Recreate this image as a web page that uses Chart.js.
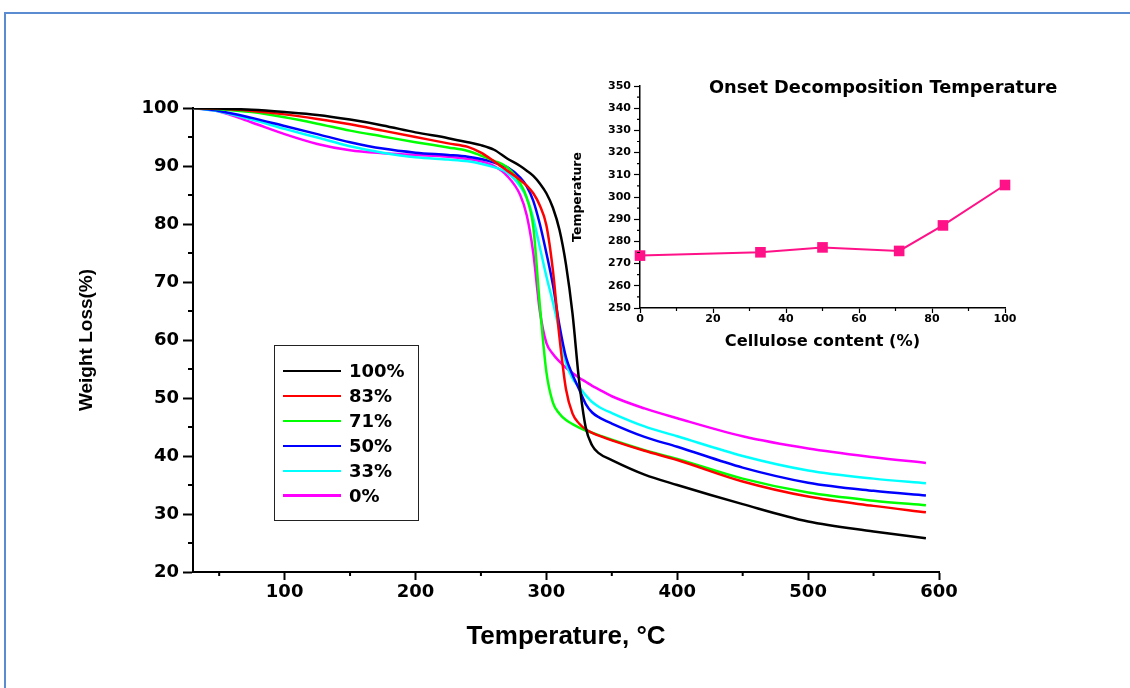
<!DOCTYPE html>
<html>
<head>
<meta charset="utf-8">
<script src="https://cdn.jsdelivr.net/npm/chart.js@4.4.1/dist/chart.umd.min.js"></script>
<style>
html,body{margin:0;padding:0;background:#fff;width:1130px;height:688px;overflow:hidden;position:relative;font-family:"DejaVu Sans",sans-serif;}
#frame{position:absolute;left:4px;top:12px;width:1140px;height:700px;border-top:2px solid #5b8cd2;border-left:2px solid #5b8cd2;}
#main{position:absolute;left:0;top:0;}
#inset{position:absolute;left:560px;top:60px;}
#legend{position:absolute;left:274px;top:345px;width:145px;height:176px;border:1.5px solid #222;box-sizing:border-box;}
.lrow{position:absolute;left:8px;height:20px;display:flex;align-items:center;}
.lline{width:58px;height:2.5px;margin-right:8px;}
.ltext{font:bold 18px "DejaVu Sans";color:#000;line-height:20px;}
#insetTitle{position:absolute;left:709px;top:77px;font:bold 17.8px "DejaVu Sans";color:#000;line-height:20px;white-space:nowrap;}
</style>
</head>
<body>
<div id="frame"></div>
<canvas id="main" width="1130" height="688"></canvas>
<canvas id="inset" width="510" height="300"></canvas>
<div id="insetTitle">Onset Decomposition Temperature</div>
<div id="legend"></div>
<script>
// ---- Main TGA data (temperature in °C, weight %) ----
const temps = [30, 50, 75, 100, 125, 150, 175, 200, 225, 240, 250, 260, 270, 280, 285, 290, 295, 300, 305, 310, 315, 320, 325, 330, 335, 340, 350, 375, 400, 450, 500, 550, 590];
const w100 = [100, 99.9, 99.7, 99.3, 98.8, 98.0, 97.0, 95.8, 94.8, 94.1, 93.6, 92.8, 91.3, 90.0, 89.2, 88.3, 87.0, 85.3, 82.8, 79.0, 73.0, 64.5, 53.0, 45.0, 41.8, 40.5, 39.3, 36.8, 35.0, 31.7, 28.7, 27.0, 25.8];
const w83  = [100, 99.9, 99.5, 98.9, 98.1, 97.2, 96.1, 95.0, 93.9, 93.3, 92.3, 90.8, 89.2, 87.6, 86.6, 85.3, 83.2, 79.8, 72.0, 60.5, 51.5, 47.3, 45.6, 44.6, 44.0, 43.5, 42.7, 40.9, 39.3, 35.6, 33.0, 31.4, 30.3];
const w71  = [100, 99.8, 99.3, 98.4, 97.3, 96.1, 95.1, 94.1, 93.2, 92.6, 91.8, 90.9, 89.8, 87.0, 84.5, 79.5, 66.0, 54.5, 49.2, 47.3, 46.2, 45.5, 44.9, 44.4, 44.0, 43.6, 42.8, 41.0, 39.5, 36.1, 33.7, 32.3, 31.5];
const w50  = [100, 99.5, 98.3, 96.9, 95.5, 94.1, 93.0, 92.3, 91.9, 91.6, 91.2, 90.6, 89.8, 88.0, 86.5, 84.0, 80.0, 75.0, 69.5, 62.5, 57.0, 54.0, 51.5, 49.0, 47.5, 46.7, 45.6, 43.3, 41.6, 38.0, 35.4, 34.0, 33.2];
const w33  = [100, 99.4, 98.0, 96.4, 94.9, 93.4, 92.3, 91.5, 91.1, 90.8, 90.4, 89.8, 88.9, 86.5, 84.5, 81.0, 76.0, 71.0, 66.5, 61.5, 56.0, 53.4, 51.9, 50.5, 49.3, 48.5, 47.4, 45.1, 43.4, 40.0, 37.5, 36.1, 35.3];
const w0   = [100, 99.4, 97.5, 95.5, 93.8, 92.7, 92.2, 91.9, 91.6, 91.2, 90.8, 90.0, 88.3, 85.0, 81.5, 75.0, 65.0, 59.5, 57.6, 56.3, 55.2, 54.3, 53.5, 52.8, 52.1, 51.5, 50.3, 48.2, 46.5, 43.4, 41.3, 39.8, 38.8];
const seriesNames  = ['100%', '83%', '71%', '50%', '33%', '0%'];
const seriesValues = [w100, w83, w71, w50, w33, w0];
const seriesColors = ['#000000', '#ff0000', '#00ff00', '#0000ff', '#00ffff', '#ff00ff'];
const xTicks = [100, 200, 300, 400, 500, 600];
const yTicks = [20, 30, 40, 50, 60, 70, 80, 90, 100];

// ---- Inset data ----
const cellulose = [0, 33, 50, 71, 83, 100];
const onsetTemp = [273.6, 275.1, 277.3, 275.7, 287.2, 305.4];
const insetXTicks = [0, 20, 40, 60, 80, 100];
const insetYTicks = [250, 260, 270, 280, 290, 300, 310, 320, 330, 340, 350];

const minorTickPlugin = {
  id: 'minorTicks',
  afterDraw(chart, args, opts) {
    const ctx = chart.ctx;
    ctx.save();
    ctx.strokeStyle = '#000';
    ctx.lineWidth = opts.width || 1.5;
    (opts.items || []).forEach(it => {
      const s = chart.scales[it.axis];
      ctx.beginPath();
      for (let v = it.from; v <= s.max + 1e-9; v += it.step) {
        const p = s.getPixelForValue(v);
        if (s.isHorizontal()) { ctx.moveTo(p, s.top); ctx.lineTo(p, s.top + it.len); }
        else { ctx.moveTo(s.right, p); ctx.lineTo(s.right - it.len, p); }
      }
      ctx.stroke();
    });
    ctx.restore();
  }
};

const tickFont = {family: 'DejaVu Sans', size: 18, weight: 'bold'};

const mainChart = new Chart(document.getElementById('main'), {
  type: 'line',
  data: {
    datasets: seriesValues.map((vals, i) => ({
      label: seriesNames[i],
      data: temps.map((t, j) => ({x: t, y: vals[j]})),
      borderColor: seriesColors[i],
      backgroundColor: seriesColors[i],
      borderWidth: 2.5,
      pointRadius: 0,
      cubicInterpolationMode: 'monotone',
      fill: false
    }))
  },
  options: {
    responsive: false, animation: false, devicePixelRatio: 1,
    layout: {padding: {left: 60, top: 108, right: 191, bottom: 30}},
    plugins: {
      legend: {display: false}, tooltip: {enabled: false},
      minorTicks: {width: 2, items: [{axis: 'x', from: 50, step: 100, len: 4}, {axis: 'y', from: 25, step: 10, len: 5}]}
    },
    scales: {
      x: {
        type: 'linear', min: 30, max: 600,
        afterBuildTicks: s => { s.ticks = xTicks.map(v => ({value: v})); },
        afterFit: s => { s.height = 86; },
        border: {display: true, color: '#000', width: 2},
        grid: {display: true, drawOnChartArea: false, drawTicks: true, tickLength: 8, tickColor: '#000', tickWidth: 2, color: '#000'},
        ticks: {color: '#000', font: tickFont, padding: 2, maxRotation: 0, autoSkip: false},
        title: {display: true, text: 'Temperature, °C', color: '#000', font: {family: 'Liberation Sans', size: 26, weight: 'bold'}, padding: {top: 0, bottom: 5.5}}
      },
      y: {
        type: 'linear', min: 20, max: 100,
        afterBuildTicks: s => { s.ticks = yTicks.map(v => ({value: v})); },
        afterFit: s => { s.width = 133; },
        border: {display: true, color: '#000', width: 2},
        grid: {display: true, drawOnChartArea: false, drawTicks: true, tickLength: 10, tickColor: '#000', tickWidth: 2, color: '#000'},
        ticks: {color: '#000', font: tickFont, padding: 4, autoSkip: false},
        title: {display: true, text: 'Weight Loss(%)', color: '#000', font: {family: 'Liberation Sans', size: 19, weight: 'bold'}, padding: {top: 15.6, bottom: 0}}
      }
    }
  },
  plugins: [minorTickPlugin]
});

// HTML legend built from the chart datasets
const legendEl = document.getElementById('legend');
mainChart.data.datasets.forEach((ds, i) => {
  const row = document.createElement('div');
  row.className = 'lrow';
  row.style.top = (26.7 + i * 24.9 - 10 - 1.5) + 'px';
  const ln = document.createElement('div');
  ln.className = 'lline';
  ln.style.background = ds.borderColor;
  const tx = document.createElement('div');
  tx.className = 'ltext';
  tx.textContent = ds.label;
  row.appendChild(ln); row.appendChild(tx);
  legendEl.appendChild(row);
});

const insetFont = {family: 'DejaVu Sans', size: 11, weight: 'bold'};
new Chart(document.getElementById('inset'), {
  type: 'line',
  data: {
    datasets: [{
      label: 'Onset Decomposition Temperature',
      data: cellulose.map((c, i) => ({x: c, y: onsetTemp[i]})),
      borderColor: '#ff1188', backgroundColor: '#ff1188',
      borderWidth: 2, pointStyle: 'rect', pointRadius: 7.5, pointBorderWidth: 0,
      tension: 0, fill: false
    }]
  },
  options: {
    responsive: false, animation: false, devicePixelRatio: 1,
    clip: false,
    layout: {padding: {left: 8, top: 26, right: 65, bottom: 5}},
    plugins: {
      legend: {display: false}, tooltip: {enabled: false},
      minorTicks: {width: 1.2, items: [{axis: 'x', from: 10, step: 20, len: 3}, {axis: 'y', from: 255, step: 10, len: 3}]}
    },
    scales: {
      x: {
        type: 'linear', min: 0, max: 100,
        afterBuildTicks: s => { s.ticks = insetXTicks.map(v => ({value: v})); },
        afterFit: s => { s.height = 47; },
        border: {display: true, color: '#000', width: 1.5},
        grid: {display: true, drawOnChartArea: false, drawTicks: true, tickLength: 5, tickColor: '#000', tickWidth: 1.2, color: '#000'},
        ticks: {color: '#000', font: insetFont, padding: 0, maxRotation: 0, autoSkip: false},
        title: {display: true, text: 'Cellulose content (%)', color: '#000', font: {family: 'DejaVu Sans', size: 16.2, weight: 'bold'}, padding: {top: 0, bottom: 3}}
      },
      y: {
        type: 'linear', min: 250, max: 350,
        afterBuildTicks: s => { s.ticks = insetYTicks.map(v => ({value: v})); },
        afterFit: s => { s.width = 72; },
        border: {display: true, color: '#000', width: 1.5},
        grid: {display: true, drawOnChartArea: false, drawTicks: true, tickLength: 6, tickColor: '#000', tickWidth: 1.2, color: '#000'},
        ticks: {color: '#000', font: insetFont, padding: 3, autoSkip: false},
        title: {display: true, text: 'Temperature', color: '#000', font: {family: 'DejaVu Sans', size: 12.5, weight: 'bold'}, padding: {top: 2.5, bottom: 0}}
      }
    }
  },
  plugins: [minorTickPlugin]
});
</script>
</body>
</html>
